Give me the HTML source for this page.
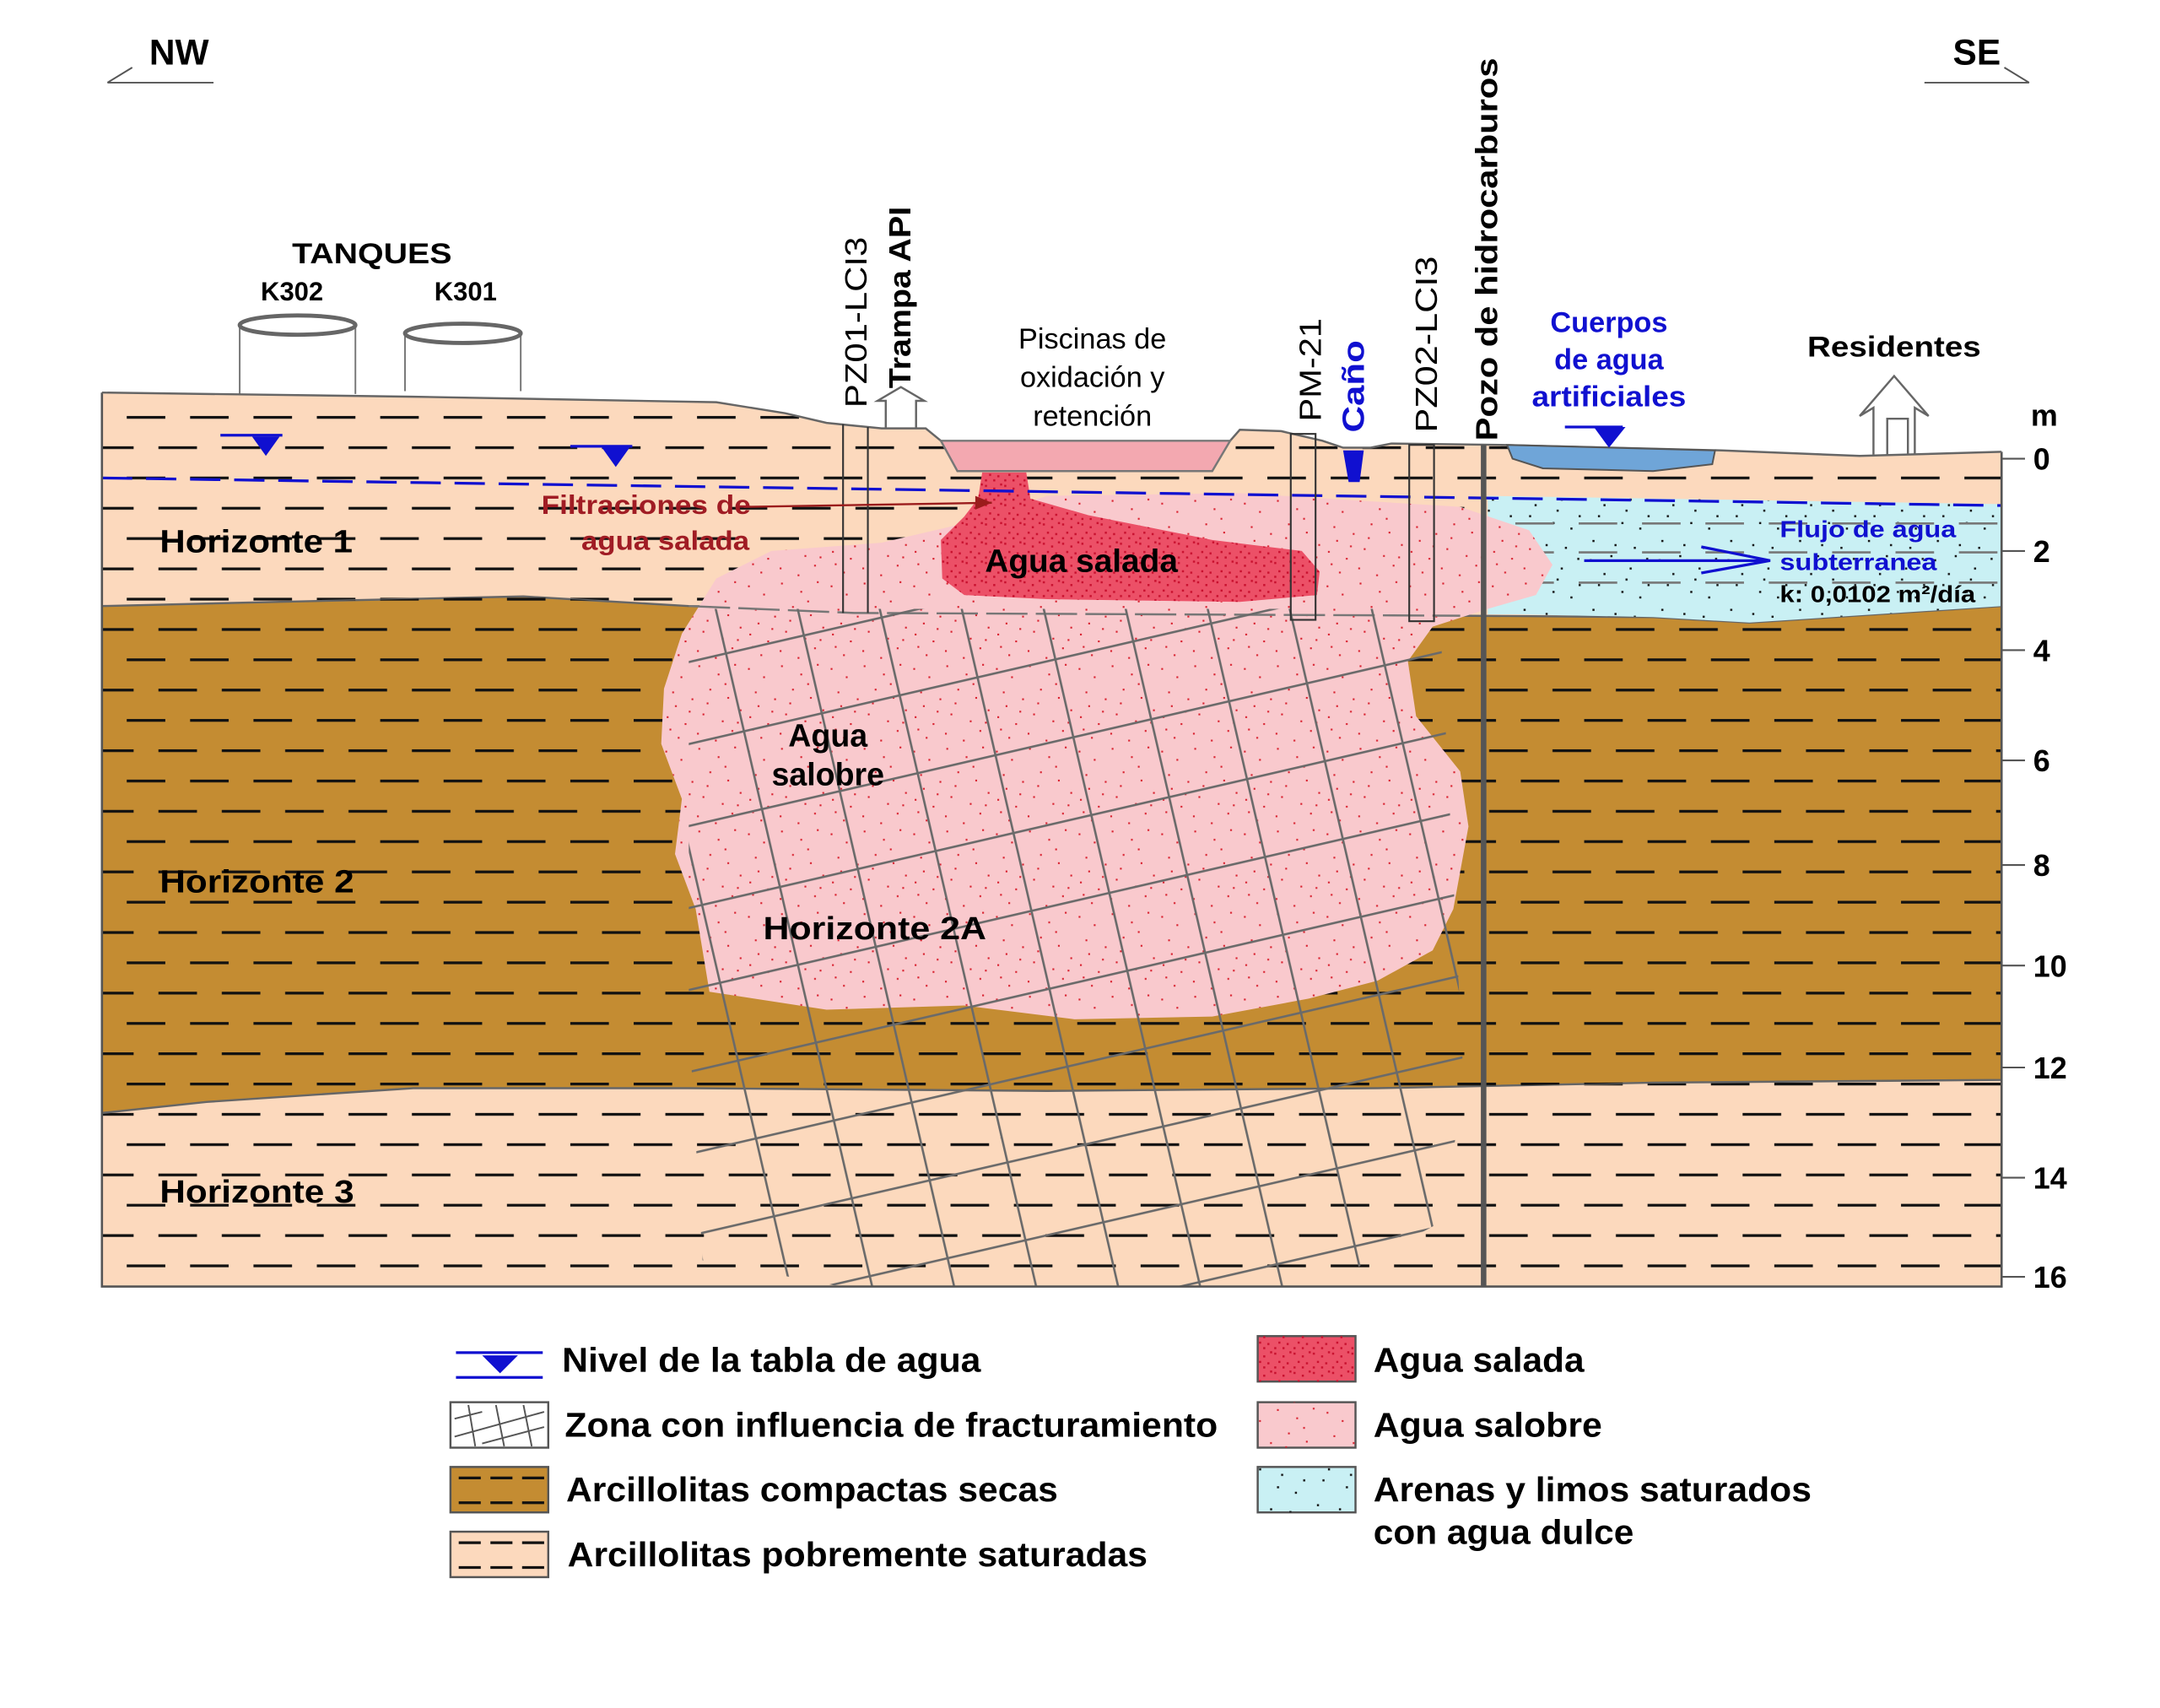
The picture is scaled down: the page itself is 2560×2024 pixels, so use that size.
<!DOCTYPE html>
<html><head><meta charset="utf-8"><style>
html,body{margin:0;padding:0;background:#fff;}
svg{display:block;}
text{font-family:"Liberation Sans Narrow","Liberation Sans",sans-serif;}
</style></head><body>
<svg width="2560" height="2024" viewBox="0 0 1568 1240" preserveAspectRatio="none" xmlns="http://www.w3.org/2000/svg">
<defs>
<pattern id="dashK" patternUnits="userSpaceOnUse" x="0" y="-6" width="46" height="44">
<rect x="0" y="0" width="28" height="2" fill="#111"/>
<rect x="23" y="22" width="28" height="2" fill="#111"/>
<rect x="-23" y="22" width="28" height="2" fill="#111"/>
</pattern>
<pattern id="dotR" patternUnits="userSpaceOnUse" width="60" height="60">
<g fill="#d8202e">
<rect x="3" y="5" width="1.3" height="1.3"/><rect x="14" y="11" width="1.3" height="1.3"/><rect x="27" y="3" width="1.3" height="1.3"/><rect x="41" y="9" width="1.3" height="1.3"/><rect x="53" y="2" width="1.3" height="1.3"/>
<rect x="8" y="22" width="1.3" height="1.3"/><rect x="22" y="27" width="1.3" height="1.3"/><rect x="35" y="20" width="1.3" height="1.3"/><rect x="48" y="26" width="1.3" height="1.3"/><rect x="57" y="35" width="1.3" height="1.3"/>
<rect x="4" y="40" width="1.3" height="1.3"/><rect x="17" y="45" width="1.3" height="1.3"/><rect x="30" y="38" width="1.3" height="1.3"/><rect x="44" y="43" width="1.3" height="1.3"/><rect x="12" y="55" width="1.3" height="1.3"/>
<rect x="26" y="52" width="1.3" height="1.3"/><rect x="39" y="57" width="1.3" height="1.3"/><rect x="51" y="50" width="1.3" height="1.3"/><rect x="33" y="30" width="1.3" height="1.3"/><rect x="10" y="32" width="1.3" height="1.3"/>
<rect x="20" y="36" width="1.3" height="1.3"/><rect x="46" y="16" width="1.3" height="1.3"/><rect x="6" y="49" width="1.3" height="1.3"/><rect x="55" y="44" width="1.3" height="1.3"/>
</g></pattern>
<pattern id="dotS" patternUnits="userSpaceOnUse" width="14" height="14">
<g fill="#c8102e">
<rect x="1" y="2" width="1.5" height="1.5"/><rect x="7" y="4" width="1.5" height="1.5"/><rect x="12" y="1" width="1.5" height="1.5"/><rect x="4" y="8" width="1.5" height="1.5"/><rect x="10" y="9" width="1.5" height="1.5"/><rect x="1" y="12" width="1.5" height="1.5"/><rect x="7" y="12" width="1.5" height="1.5"/>
</g></pattern>
<pattern id="dotB" patternUnits="userSpaceOnUse" width="50" height="50">
<g fill="#111">
<rect x="4" y="6" width="1.5" height="1.5"/><rect x="19" y="3" width="1.5" height="1.5"/><rect x="33" y="12" width="1.5" height="1.5"/><rect x="45" y="5" width="1.5" height="1.5"/><rect x="10" y="24" width="1.5" height="1.5"/><rect x="27" y="29" width="1.5" height="1.5"/><rect x="40" y="33" width="1.5" height="1.5"/><rect x="6" y="42" width="1.5" height="1.5"/><rect x="22" y="45" width="1.5" height="1.5"/><rect x="36" y="47" width="1.5" height="1.5"/>
<rect x="14" y="16" width="1.5" height="1.5"/><rect x="30" y="20" width="1.5" height="1.5"/><rect x="46" y="24" width="1.5" height="1.5"/>
</g></pattern>
<pattern id="frac" patternUnits="userSpaceOnUse" width="58" height="58" patternTransform="rotate(-13)">
<rect x="0" y="0" width="58" height="1.6" fill="#6a6a6a"/>
<rect x="0" y="0" width="1.6" height="58" fill="#6a6a6a"/>
</pattern>
<clipPath id="sec"><rect x="74" y="0" width="1379" height="934"/></clipPath>
</defs>

<text x="130" y="47" font-weight="bold" font-size="26" text-anchor="middle">NW</text>
<path d="M78,60 L155,60 M78,60 L96,49" stroke="#555" stroke-width="1.2" fill="none"/>
<text x="1435" y="47" font-weight="bold" font-size="26" text-anchor="middle">SE</text>
<path d="M1397,60 L1473,60 M1473,60 L1455,49" stroke="#555" stroke-width="1.2" fill="none"/>

<text x="270" y="191" font-weight="bold" font-size="21" text-anchor="middle" textLength="116" lengthAdjust="spacingAndGlyphs">TANQUES</text>
<text x="212" y="218" font-weight="bold" font-size="19" text-anchor="middle">K302</text>
<text x="338" y="218" font-weight="bold" font-size="19" text-anchor="middle">K301</text>
<path d="M174,236 L174,286 M258,236 L258,286 M294,242 L294,284 M378,242 L378,284" stroke="#777" stroke-width="1.2"/>
<ellipse cx="216" cy="236" rx="42" ry="7" fill="none" stroke="#666" stroke-width="3"/>
<ellipse cx="336" cy="242" rx="42" ry="7" fill="none" stroke="#666" stroke-width="3"/>

<g clip-path="url(#sec)">
<path d="M74,285 L300,288 L520,292 L570,300 L600,307 L640,311 L672,311 L683,320 L893,320 L900,312 L930,313 L960,320 L975,325 L995,325 L1010,322 L1090,323 L1250,327 L1350,331 L1453,328 L1453,934 L74,934 Z" fill="#fcd9bd"/>
<path d="M74,285 L300,288 L520,292 L570,300 L600,307 L640,311 L672,311 L683,320 L893,320 L900,312 L930,313 L960,320 L975,325 L995,325 L1010,322 L1090,323 L1250,327 L1350,331 L1453,328 L1453,934 L74,934 Z" fill="url(#dashK)"/>
<path d="M74,440 L200,437 L380,433 L500,440 L1060,447 L1200,448 L1270,452 L1453,440 L1453,784 L1200,786 L1000,790 L760,792 L500,790 L300,790 L150,800 L74,808 Z" fill="#c48c32" stroke="#666" stroke-width="1.5"/>
<path d="M74,440 L200,437 L380,433 L500,440 L1060,447 L1200,448 L1270,452 L1453,440 L1453,784 L1200,786 L1000,790 L760,792 L500,790 L300,790 L150,800 L74,808 Z" fill="url(#dashK)"/>
<path d="M1080,360 L1453,366 L1453,440 L1270,452 L1200,448 L1100,446 L1080,446 Z" fill="#c9f0f4"/>
<path d="M1080,360 L1453,366 L1453,440 L1270,452 L1200,448 L1100,446 L1080,446 Z" fill="url(#dotB)"/>
<path d="M1100,380 L1453,380 M1100,401 L1453,401 M1100,423 L1453,423" stroke="#777" stroke-width="1.6" stroke-dasharray="28 18"/>
<path d="M520,420 L560,400 L640,394 L700,380 L760,360 L900,358 L1060,368 L1110,385 L1127,410 L1115,432 L1080,442 L1040,455 L1022,480 L1028,520 L1060,560 L1066,600 L1055,660 L1040,690 L1000,712 L950,725 L880,738 L780,740 L700,730 L600,733 L515,720 L505,660 L490,620 L495,580 L480,540 L482,500 L495,460 Z" fill="#f9c9cd"/>
<path d="M520,420 L560,400 L640,394 L700,380 L760,360 L900,358 L1060,368 L1110,385 L1127,410 L1115,432 L1080,442 L1040,455 L1022,480 L1028,520 L1060,560 L1066,600 L1055,660 L1040,690 L1000,712 L950,725 L880,738 L780,740 L700,730 L600,733 L515,720 L505,660 L490,620 L495,580 L480,540 L482,500 L495,460 Z" fill="url(#dotR)"/>
<path d="M713,343 L745,343 L748,362 L790,374 L880,392 L945,400 L958,415 L956,432 L900,437 L760,435 L700,432 L684,420 L683,392 L700,375 L710,362 Z" fill="#ec5067"/>
<path d="M713,343 L745,343 L748,362 L790,374 L880,392 L945,400 L958,415 L956,432 L900,437 L760,435 L700,432 L684,420 L683,392 L700,375 L710,362 Z" fill="url(#dotS)"/>
<path d="M500,440 L620,445 L1060,447" stroke="#777" stroke-width="1.5" stroke-dasharray="30 6" fill="none"/>
<path d="M500,442 L1045,442 L1062,775 L1050,885 L960,934 L610,934 L510,915 L500,740 Z" fill="url(#frac)"/>
<path d="M74,347 L1453,367" stroke="#1010d0" stroke-width="2" stroke-dasharray="22 10" fill="none"/>
</g>
<path d="M74,285 L74,934 L1453,934 L1453,328" stroke="#555" stroke-width="1.6" fill="none"/>
<path d="M74,285 L300,288 L520,292 L570,300 L600,307 L640,311 L672,311 L683,320 M893,320 L900,312 L930,313 L960,320 L975,325 L995,325 L1010,322 L1090,323 L1250,327 L1350,331 L1453,328" stroke="#666" stroke-width="1.5" fill="none"/>

<path d="M683,320 L893,320 L880,342 L695,342 Z" fill="#f3a8b0" stroke="#777" stroke-width="1.5"/>
<path d="M975,327 L990,327 L987,350 L979,350 Z" fill="#1010d0"/>
<path d="M1094,323 L1245,327 L1243,337 L1200,342 L1120,340 L1098,333 Z" fill="#6fa5d8" stroke="#555" stroke-width="1.2"/>

<path d="M612,308 L612,445 M630,310 L630,445" stroke="#333" stroke-width="1.3"/>
<rect x="937" y="315" width="18" height="135" fill="none" stroke="#333" stroke-width="1.3"/>
<rect x="1023" y="323" width="18" height="128" fill="none" stroke="#333" stroke-width="1.3"/>
<rect x="1075" y="323" width="4" height="611" fill="#555"/>

<path d="M643,311 L643,291 L637,291 L654,281 L671,291 L665,291 L665,311" stroke="#666" stroke-width="1.5" fill="none"/>
<path d="M1360,330 L1360,296 L1350,302 L1375,273 L1400,302 L1390,296 L1390,330 M1370,330 L1370,304 L1385,304 L1385,330" stroke="#666" stroke-width="1.5" fill="none"/>

<path d="M160,316 L205,316" stroke="#1010d0" stroke-width="2"/><path d="M183,317 L203,317 L193,331 Z" fill="#1010d0"/>
<path d="M414,324 L459,324" stroke="#1010d0" stroke-width="2"/><path d="M437,325 L457,325 L447,339 Z" fill="#1010d0"/>
<path d="M1136,310 L1178,310" stroke="#1010d0" stroke-width="2"/><path d="M1157,310 L1180,310 L1168,325 Z" fill="#1010d0"/>

<path d="M1150,407 L1285,407 M1235,397 L1285,407 L1235,416" stroke="#1010d0" stroke-width="2" fill="none"/>

<path d="M1453,333 L1470,333 M1453,400 L1470,400 M1453,472 L1470,472 M1453,552 L1470,552 M1453,628 L1470,628 M1453,701 L1470,701 M1453,775 L1470,775 M1453,855 L1470,855 M1453,927 L1470,927" stroke="#555" stroke-width="1.3"/>
<g font-size="22" font-weight="bold">
<text x="1484" y="309" text-anchor="middle">m</text>
<text x="1476" y="341">0</text><text x="1476" y="408">2</text><text x="1476" y="480">4</text><text x="1476" y="560">6</text><text x="1476" y="636">8</text>
<text x="1476" y="709">10</text><text x="1476" y="783">12</text><text x="1476" y="863">14</text><text x="1476" y="935">16</text>
</g>

<g font-weight="bold" font-size="23" lengthAdjust="spacingAndGlyphs">
<text x="116" y="401" textLength="140" lengthAdjust="spacingAndGlyphs">Horizonte 1</text>
<text x="116" y="648" textLength="141" lengthAdjust="spacingAndGlyphs">Horizonte 2</text>
<text x="116" y="873" textLength="141" lengthAdjust="spacingAndGlyphs">Horizonte 3</text>
<text x="715" y="415" textLength="140" lengthAdjust="spacingAndGlyphs">Agua salada</text>
<text x="601" y="542" text-anchor="middle">Agua</text>
<text x="601" y="570" text-anchor="middle">salobre</text>
<text x="554" y="682" textLength="162" lengthAdjust="spacingAndGlyphs">Horizonte 2A</text>
</g>
<path d="M540,368 L720,365" stroke="#9b1c1c" stroke-width="1.5"/><path d="M720,365 L708,360 L708,370 Z" fill="#9b1c1c"/>
<text x="393" y="373" font-weight="bold" font-size="19" fill="#a01c24" textLength="152" lengthAdjust="spacingAndGlyphs">Filtraciones de</text>
<text x="422" y="399" font-weight="bold" font-size="19" fill="#a01c24" textLength="122" lengthAdjust="spacingAndGlyphs">agua salada</text>

<g font-size="21" text-anchor="middle">
<text x="793" y="253">Piscinas de</text>
<text x="793" y="281">oxidación y</text>
<text x="793" y="309">retención</text>
</g>
<g font-size="22">
<text transform="translate(629,296) rotate(-90)" textLength="124" lengthAdjust="spacingAndGlyphs">PZ01-LCI3</text>
<text transform="translate(661,282) rotate(-90)" font-weight="bold" textLength="132" lengthAdjust="spacingAndGlyphs">Trampa API</text>
<text transform="translate(959,306) rotate(-90)" textLength="75" lengthAdjust="spacingAndGlyphs">PM-21</text>
<text transform="translate(990,314) rotate(-90)" font-weight="bold" fill="#1010d0" textLength="67" lengthAdjust="spacingAndGlyphs">Caño</text>
<text transform="translate(1043,314) rotate(-90)" textLength="128" lengthAdjust="spacingAndGlyphs">PZ02-LCI3</text>
<text transform="translate(1087,320) rotate(-90)" font-weight="bold" textLength="278" lengthAdjust="spacingAndGlyphs">Pozo de hidrocarburos</text>
</g>
<g font-weight="bold" font-size="21" fill="#1010d0" text-anchor="middle">
<text x="1168" y="241">Cuerpos</text>
<text x="1168" y="268">de agua</text>
<text x="1168" y="295" textLength="112" lengthAdjust="spacingAndGlyphs">artificiales</text>
</g>
<text x="1312" y="259" font-weight="bold" font-size="21" textLength="126" lengthAdjust="spacingAndGlyphs">Residentes</text>
<g font-weight="bold" font-size="17">
<text x="1292" y="390" fill="#1010d0" textLength="128" lengthAdjust="spacingAndGlyphs">Flujo de agua</text>
<text x="1292" y="414" fill="#1010d0" textLength="114" lengthAdjust="spacingAndGlyphs">subterranea</text>
<text x="1292" y="437" textLength="142" lengthAdjust="spacingAndGlyphs">k: 0,0102 m²/día</text>
</g>

<path d="M331,982 L394,982" stroke="#1010d0" stroke-width="2"/><path d="M350,984 L376,984 L363,997 Z" fill="#1010d0"/>
<path d="M331,1000 L394,1000" stroke="#1010d0" stroke-width="2"/>
<rect x="327" y="1018" width="71" height="33" fill="#fff" stroke="#555" stroke-width="1.5"/>
<path d="M330,1043 L395,1025 M330,1030 L350,1025 M350,1048 L395,1036 M340,1020 L345,1050 M360,1020 L366,1050 M380,1020 L386,1050" stroke="#555" stroke-width="1.2"/>
<rect x="327" y="1065" width="71" height="33" fill="#c48c32" stroke="#555" stroke-width="1.5"/>
<path d="M333,1073 L349,1073 M356,1073 L372,1073 M379,1073 L395,1073 M333,1091 L349,1091 M356,1091 L372,1091 M379,1091 L395,1091" stroke="#111" stroke-width="2"/>
<rect x="327" y="1112" width="71" height="33" fill="#fcd9bd" stroke="#555" stroke-width="1.5"/>
<path d="M333,1120 L349,1120 M356,1120 L372,1120 M379,1120 L395,1120 M333,1138 L349,1138 M356,1138 L372,1138 M379,1138 L395,1138" stroke="#111" stroke-width="2"/>
<rect x="913" y="970" width="71" height="33" fill="#ec5067" stroke="#555" stroke-width="1.5"/>
<rect x="913" y="970" width="71" height="33" fill="url(#dotS)"/>
<rect x="913" y="1018" width="71" height="33" fill="#f9c9cd" stroke="#555" stroke-width="1.5"/>
<rect x="913" y="1018" width="71" height="33" fill="url(#dotR)"/>
<rect x="913" y="1065" width="71" height="33" fill="#c9f0f4" stroke="#555" stroke-width="1.5"/>
<rect x="913" y="1065" width="71" height="33" fill="url(#dotB)"/>
<g font-weight="bold" font-size="25">
<text x="408" y="996" textLength="304" lengthAdjust="spacingAndGlyphs">Nivel de la tabla de agua</text>
<text x="410" y="1043" textLength="474" lengthAdjust="spacingAndGlyphs">Zona con influencia de fracturamiento</text>
<text x="411" y="1090" textLength="357" lengthAdjust="spacingAndGlyphs">Arcillolitas compactas secas</text>
<text x="412" y="1137" textLength="421" lengthAdjust="spacingAndGlyphs">Arcillolitas pobremente saturadas</text>
<text x="997" y="996" textLength="153" lengthAdjust="spacingAndGlyphs">Agua salada</text>
<text x="997" y="1043" textLength="166" lengthAdjust="spacingAndGlyphs">Agua salobre</text>
<text x="997" y="1090" textLength="318" lengthAdjust="spacingAndGlyphs">Arenas y limos saturados</text>
<text x="997" y="1121" textLength="189" lengthAdjust="spacingAndGlyphs">con agua dulce</text>
</g>
</svg>
</body></html>
